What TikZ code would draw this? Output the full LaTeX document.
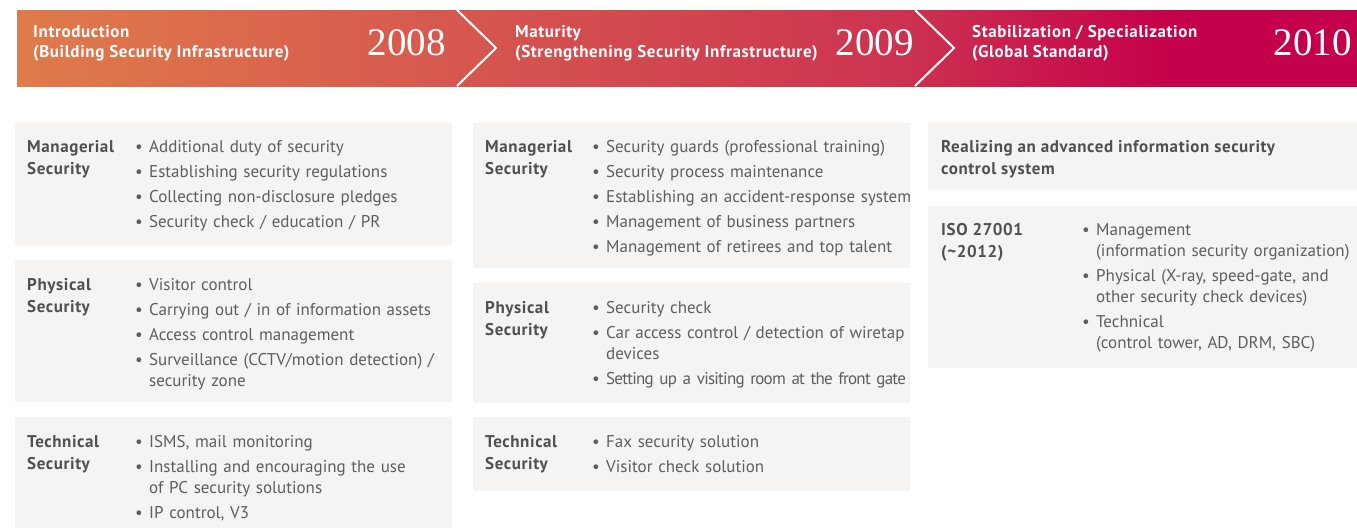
\documentclass[tikz,border=0pt]{standalone}
\usepackage{fontspec}
\setmainfont{PT Sans}[BoldFeatures={LetterSpace=3.5}]
\newfontfamily\yearfont{Liberation Serif}
\usetikzlibrary{positioning}
\definecolor{boxgray}{HTML}{F5F4F2}
\definecolor{labelgray}{HTML}{505050}
\definecolor{itemgray}{HTML}{5E5E5E}
\definecolor{bandorange}{HTML}{DF7B4A}
\definecolor{bandred}{HTML}{D6584F}
\definecolor{bandrose}{HTML}{CC3350}
\definecolor{bandcrimson}{HTML}{C5004A}
\pgfdeclarehorizontalshading{band}{100bp}{color(0bp)=(bandorange); color(25bp)=(bandorange);
  color(41bp)=(bandred); color(58bp)=(bandrose); color(68bp)=(bandcrimson); color(100bp)=(bandcrimson)}
\newcommand{\bul}[1]{\hangindent=14pt\hangafter=1\noindent\strut\makebox[14pt][l]{\textbullet}#1\par}

\begin{document}
\begin{tikzpicture}[x=1pt, y=-1pt,
    headtext/.style={anchor=north west, yshift=14.35pt, inner sep=0pt, align=left, text=white,
      font=\bfseries\fontsize{17}{20.5}\selectfont},
    yeartext/.style={anchor=base east, inner sep=0pt, text=white,
      font=\yearfont\fontsize{39}{39}\selectfont},
    topic/.style={anchor=north west, yshift=15.4pt, inner sep=0pt, align=left, text=labelgray,
      font=\bfseries\fontsize{17}{22}\selectfont},
    items/.style={anchor=north west, yshift=14.7pt, inner sep=0pt, align=left, text width=#1, text=itemgray,
      font=\fontsize{17}{21}\selectfont\setlength{\parskip}{4pt}},
    items/.default=360pt]
    \useasboundingbox (0,0) rectangle (1357,528);
    % header band
    \shade[shading=band] (17,10) rectangle (1357,86);
    \foreach \x in {457,915}{
      \draw[white, line width=2pt] (\x,10) -- (\x+39,48) -- (\x,86);
    }
    \node[headtext] (intro) at (33,37) {\strut Introduction\\(Building Security Infrastructure)};
    \node[yeartext] (y2008) at (446,55) {2008};
    \node[headtext] (maturity) at (515,37) {\strut Maturity\\(Strengthening Security Infrastructure)};
    \node[yeartext] (y2009) at (914,55) {2009};
    \node[headtext] (stable) at (972,37) {\strut Stabilization / Specialization\\(Global Standard)};
    \node[yeartext] (y2010) at (1352,55) {2010};
    % cards
    \fill[boxgray] (15,123) rectangle (452,245);
    \fill[boxgray] (15,260) rectangle (452,402);
    \fill[boxgray] (15,417) rectangle (452,528);
    \fill[boxgray] (473,123) rectangle (910,268);
    \fill[boxgray] (473,283) rectangle (910,403);
    \fill[boxgray] (473,417) rectangle (910,491);
    \fill[boxgray] (928,123) rectangle (1357,190);
    \fill[boxgray] (928,206) rectangle (1357,368);
    % 2008
    \node[topic] (mgr08) at (27,152) {\strut Managerial\\Security};
    \node[items] (mgr08list) at (135,152) {\bul{Additional duty of security}
      \bul{Establishing security regulations}
      \bul{Collecting non-disclosure pledges}
      \bul{Security check / education / PR}};
    \node[topic] (phy08) at (27,290) {\strut Physical\\Security};
    \node[items] (phy08list) at (135,290) {\bul{Visitor control}
      \bul{Carrying out / in of information assets}
      \bul{Access control management}
      \bul{Surveillance (CCTV/motion detection) /\newline security zone}};
    \node[topic] (tec08) at (27,447) {\strut Technical\\Security};
    \node[items] (tec08list) at (135,447) {\bul{ISMS, mail monitoring}
      \bul{Installing and encouraging the use\newline of PC security solutions}
      \bul{IP control, V3}};
    % 2009
    \node[topic] (mgr09) at (485,152) {\strut Managerial\\Security};
    \node[items] (mgr09list) at (592,152) {\bul{Security guards (professional training)}
      \bul{Security process maintenance}
      \bul{Establishing an accident-response system}
      \bul{Management of business partners}
      \bul{Management of retirees and top talent}};
    \node[topic] (phy09) at (485,313) {\strut Physical\\Security};
    \node[items] (phy09list) at (592,313) {\bul{Security check}
      \bul{Car access control / detection of wiretap\newline devices}
      \bul{{\addfontfeature{LetterSpace=-4.5}Setting up a visiting room at the front gate}}};
    \node[topic] (tec09) at (485,447) {\strut Technical\\Security};
    \node[items] (tec09list) at (592,447) {\bul{Fax security solution}
      \bul{Visitor check solution}};
    % 2010
    \node[topic] (control) at (941,152) {\strut Realizing an advanced information security\\control system};
    \node[topic] (iso) at (941,235) {\strut ISO 27001\\(\textasciitilde2012)};
    \node[items=300pt] (isolist) at (1082,235) {\bul{Management\newline (information security organization)}
      \bul{Physical (X-ray, speed-gate, and\newline other security check devices)}
      \bul{Technical\newline (control tower, AD, DRM, SBC)}};
  \end{tikzpicture}
\end{document}
